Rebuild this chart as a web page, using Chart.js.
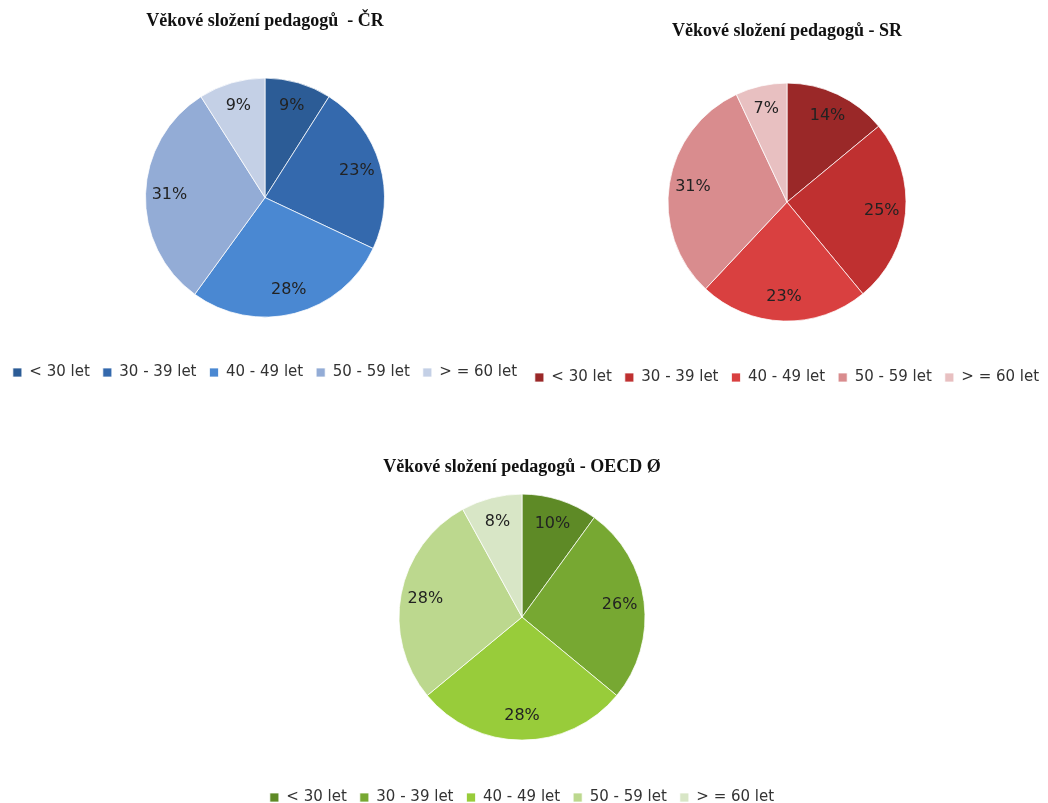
<!DOCTYPE html>
<html>
<head>
<meta charset="utf-8">
<script src="https://cdn.jsdelivr.net/npm/chart.js@4"></script>
<style>
  html, body { margin: 0; padding: 0; background: #fff; overflow: hidden; }
  .graf { position: absolute; }
</style>
</head>
<body>
<div class="graf" style="left:-10px; top:0px; width:550px; height:390px;"><canvas id="grafCR"></canvas></div>
<div class="graf" style="left:512px; top:0px; width:550px; height:395px;"><canvas id="grafSR"></canvas></div>
<div class="graf" style="left:0px; top:440px; width:1044px; height:375px;"><canvas id="grafOECD"></canvas></div>
<script>
// kategorie a hodnoty (v %)
const kategorie = ['< 30 let', '30 - 39 let', '40 - 49 let', '50 - 59 let', '> = 60 let'];
const hodnotyCR = [9, 23, 28, 31, 9];
const hodnotySR = [14, 25, 23, 31, 7];
const hodnotyOECD = [10, 26, 28, 28, 8];

const barvyCR = ['#2c5c96', '#3469ad', '#4a88d2', '#93acd6', '#c4d0e6'];
const barvySR = ['#9a2828', '#bf3030', '#d94040', '#d98c8e', '#e8c0c1'];
const barvyOECD = ['#5e8a26', '#77a832', '#98cc3a', '#bcd88e', '#d8e6c6'];

// popisky procent uvnitr vysecu
const popiskyPlugin = {
    id: 'popisky',
    afterDatasetsDraw(chart) {
        const ctx = chart.ctx;
        const meta = chart.getDatasetMeta(0);
        const data = chart.data.datasets[0].data;
        ctx.save();
        ctx.font = '16px "DejaVu Sans"';
        ctx.fillStyle = '#222';
        ctx.textAlign = 'center';
        ctx.textBaseline = 'middle';
        meta.data.forEach((arc, i) => {
            const p = arc.getProps(['x', 'y', 'startAngle', 'endAngle', 'outerRadius'], true);
            const uhel = (p.startAngle + p.endAngle) / 2;
            const r = p.outerRadius * 0.8;
            ctx.fillText(data[i] + '%', p.x + Math.cos(uhel) * r, p.y + Math.sin(uhel) * r);
        });
        ctx.restore();
    }
};

function vytvorGraf(nazev, titulek, hodnoty, barvy, nastaveni)
{
    var ctx = document.getElementById(nazev).getContext('2d');
    return new Chart(ctx, {
        type: 'pie',
        data: {
            labels: kategorie,
            datasets: [{
                data: hodnoty,
                backgroundColor: barvy,
                borderColor: 'rgba(255,255,255,0.75)',
                borderWidth: 1
            }]
        },
        plugins: [popiskyPlugin],
        options: {
            responsive: true,
            maintainAspectRatio: false,
            animation: false,
            plugins: {
                tooltip: { enabled: false },
                title: {
                    display: true,
                    text: titulek,
                    color: '#111',
                    font: { family: '"Liberation Serif"', size: 18, weight: 'bold' },
                    padding: { top: nastaveni.titulekNahore, bottom: nastaveni.titulekDole }
                },
                legend: {
                    position: 'bottom',
                    title: { display: true, text: ' ', padding: nastaveni.mezera, font: { size: 12 } },
                    labels: {
                        boxWidth: 9,
                        boxHeight: 9,
                        padding: 13,
                        color: '#333',
                        font: { family: '"DejaVu Sans"', size: 15 }
                    }
                }
            }
        }
    });
}

vytvorGraf('grafCR', 'Věkové složení pedagogů  - ČR', hodnotyCR, barvyCR, { titulekNahore: 11, titulekDole: 45, mezera: 10 });
vytvorGraf('grafSR', 'Věkové složení pedagogů - SR', hodnotySR, barvySR, { titulekNahore: 21, titulekDole: 40, mezera: 10.5 });
vytvorGraf('grafOECD', 'Věkové složení pedagogů - OECD Ø', hodnotyOECD, barvyOECD, { titulekNahore: 17, titulekDole: 15, mezera: 11 });
</script>
</body>
</html>
